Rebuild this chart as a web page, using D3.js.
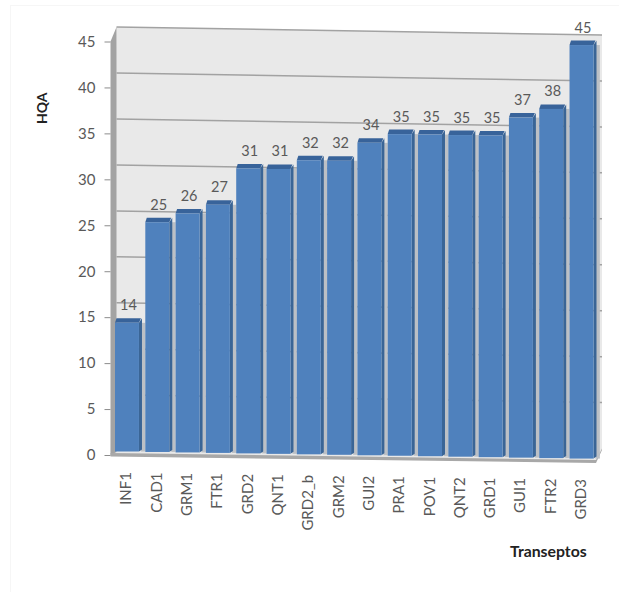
<!DOCTYPE html>
<html>
<head>
<meta charset="utf-8">
<script src="https://cdn.jsdelivr.net/npm/d3@7"></script>
<style>
  html, body { margin: 0; padding: 0; background: #fff; }
  svg { display: block; }
  text { font-family: Lato, "Open Sans", sans-serif; }
</style>
</head>
<body>
<svg id="chart" width="619" height="592"></svg>
<script>
const transects = ["INF1","CAD1","GRM1","FTR1","GRD2","QNT1","GRD2_b","GRM2","GUI2","PRA1","POV1","QNT2","GRD1","GUI1","FTR2","GRD3"];
const hqa = [14,25,26,27,31,31,32,32,34,35,35,35,35,37,38,45];
const yTicks = [0,5,10,15,20,25,30,35,40,45];

const svg = d3.select("#chart");

// Faint outer frame of the chart area
svg.append("rect").attr("x", 10.5).attr("y", 5.5).attr("width", 640).attr("height", 640)
  .attr("fill", "none").attr("stroke", "#f6f6f6");

// Layout of the pseudo-3D box
const left = 110.5, right = 596, depthX = 6;
const unit = 9.19;
const x = d3.scaleBand().domain(transects).range([115, 596.5]).paddingInner(0.11).paddingOuter(0);
const y = d3.scaleLinear().domain([0, 45]).range([451.5, 451.5 - 45 * unit]);
const axisY = d3.scaleLinear().domain([0, 45]).range([455, 41.5]);
const drop = d3.scaleLinear().domain([115, 596]).range([0, 7.5]);   // the box tilts down to the right
const capH = 4.5, sideW = 3;

// Back wall coordinates for a given value
const wallL = v => 27 + (45 - v) * unit + 0.1;
const wallR = v => 35 + (45 - v) * unit;

const walls = svg.append("g");
walls.append("path")
  .attr("d", `M${left + depthX},${wallL(45)}L${right + depthX},${wallR(45)}L${right + depthX},${wallR(0)}L${right},${461}L${left},${455}Z`)
  .attr("fill", "#e9e9e9");
walls.selectAll("line.grid").data(yTicks.filter(d => d > 0)).join("line")
  .attr("x1", left + depthX).attr("x2", right + depthX)
  .attr("y1", wallL).attr("y2", wallR)
  .attr("stroke", "#a2a2a2").attr("stroke-width", 1.5);
// Left side wall
walls.append("path")
  .attr("d", `M${left},${axisY(45)}L${left + depthX},${wallL(45)}L${left + depthX},${452}L${left},${455}Z`)
  .attr("fill", "#a3a3a3");
// Floor slab
walls.append("path")
  .attr("d", `M${left},${453}L${right},${460}L${right + depthX},${wallR(0)}L${right + depthX},${wallR(0) + 1.5}L${right},${463}L${left},${456.5}Z`)
  .attr("fill", "#a8a8a8");

// Left value axis
const axis = svg.append("g").attr("transform", `translate(${left},0)`)
  .call(d3.axisLeft(axisY).tickValues(yTicks).tickSize(6).tickPadding(9));
axis.select(".domain").remove();
axis.selectAll("line").attr("stroke", "#8c8c8c");
axis.selectAll("text").attr("fill", "#595959").style("font-size", "15px").style("font-family", "Lato, sans-serif");

// Bars: gap shading, dark right side, dark top cap and front face
const bars = svg.append("g").selectAll("g").data(transects).join("g");
const xOf = d => x(d);
bars.append("rect").attr("fill", "#bcc0c5")
  .attr("x", d => xOf(d) + x.bandwidth() - 1)
  .attr("width", x.step() - x.bandwidth() + 1)
  .attr("y", (d, i) => y(hqa[i]) + drop(xOf(d)))
  .attr("height", (d, i) => y(0) - y(hqa[i]));
bars.append("path").attr("fill", "#3a6596").attr("d", (d, i) => {
  const x0 = xOf(d), x1 = x0 + x.bandwidth(), dr = drop(x0);
  return `M${x1 - sideW},${y(hqa[i]) + dr}L${x1},${y(hqa[i]) + dr - capH}L${x1},${y(0) + dr - 2}L${x1 - sideW},${y(0) + dr}Z`;
});
bars.append("path").attr("fill", "#38639a").attr("d", (d, i) => {
  const x0 = xOf(d), x1 = x0 + x.bandwidth(), dr = drop(x0), t = y(hqa[i]) + dr;
  return `M${x0},${t}L${x0 + 1.5},${t - capH}L${x1 - 1},${t - capH}L${x1 - sideW},${t}Z`;
});
bars.append("rect").attr("fill", "#4f81bd")
  .attr("x", d => xOf(d))
  .attr("width", x.bandwidth() - sideW)
  .attr("y", (d, i) => y(hqa[i]) + drop(xOf(d)))
  .attr("height", (d, i) => y(0) - y(hqa[i]));

// Value labels above each bar
svg.append("g").selectAll("text").data(transects).join("text")
  .attr("x", d => xOf(d) + x.bandwidth() / 2)
  .attr("y", (d, i) => y(hqa[i]) + drop(xOf(d)) - 12.5)
  .attr("text-anchor", "middle")
  .attr("fill", "#595959")
  .style("font-size", "14.5px")
  .text((d, i) => hqa[i]);

// Rotated category labels
svg.append("g").selectAll("text").data(transects).join("text")
  .attr("transform", d => {
    const cx = xOf(d) + x.bandwidth() / 2;
    return `translate(${cx + 3},${472 + drop(xOf(d))}) rotate(-90)`;
  })
  .attr("text-anchor", "end")
  .attr("fill", "#595959")
  .style("font-size", "15px")
  .text(d => d);

// Axis titles
svg.append("text").attr("transform", "translate(47,124) rotate(-90)")
  .attr("fill", "#222").style("font-size", "14px").style("font-weight", "700").text("HQA");
svg.append("text").attr("x", 510).attr("y", 557)
  .attr("fill", "#222").style("font-size", "15.8px").style("font-weight", "700").text("Transeptos");
</script>
</body>
</html>
